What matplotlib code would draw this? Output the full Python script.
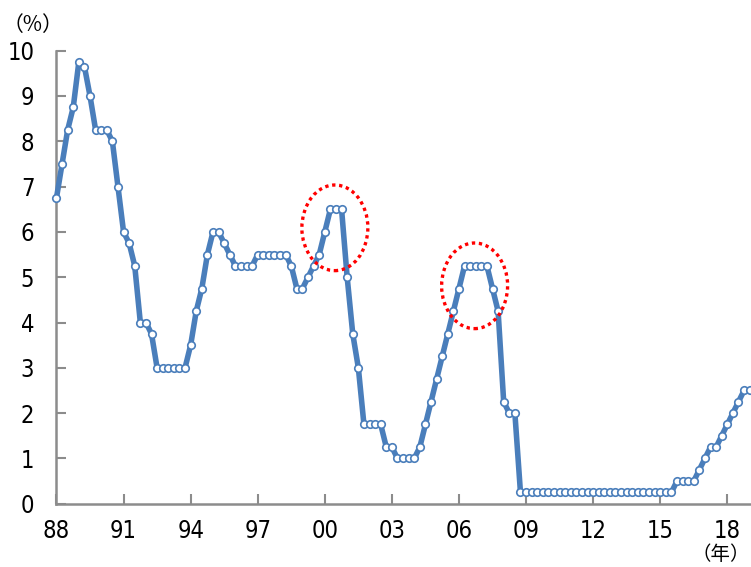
import matplotlib
matplotlib.use('Agg')
import matplotlib.pyplot as plt
from matplotlib.patches import Ellipse
import numpy as np

# quarterly policy rate, 1988Q1 - 2019Q1 (%)
rates = [6.75, 7.5, 8.25, 8.75, 9.75, 9.65, 9.0, 8.25, 8.25, 8.25, 8.0, 7.0,
         6.0, 5.75, 5.25, 4.0, 4.0, 3.75, 3.0, 3.0, 3.0, 3.0, 3.0, 3.0,
         3.5, 4.25, 4.75, 5.5, 6.0, 6.0, 5.75, 5.5, 5.25, 5.25, 5.25, 5.25,
         5.5, 5.5, 5.5, 5.5, 5.5, 5.5, 5.25, 4.75, 4.75, 5.0, 5.25, 5.5,
         6.0, 6.5, 6.5, 6.5, 5.0, 3.75, 3.0, 1.75, 1.75, 1.75, 1.75, 1.25,
         1.25, 1.0, 1.0, 1.0, 1.0, 1.25, 1.75, 2.25, 2.75, 3.25, 3.75, 4.25,
         4.75, 5.25, 5.25, 5.25, 5.25, 5.25, 4.75, 4.25, 2.25, 2.0, 2.0, 0.25,
         0.25, 0.25, 0.25, 0.25, 0.25, 0.25, 0.25, 0.25, 0.25, 0.25, 0.25, 0.25,
         0.25, 0.25, 0.25, 0.25, 0.25, 0.25, 0.25, 0.25, 0.25, 0.25, 0.25, 0.25,
         0.25, 0.25, 0.25, 0.5, 0.5, 0.5, 0.5, 0.75, 1.0, 1.25, 1.25, 1.5,
         1.75, 2.0, 2.25, 2.5, 2.5]
year_labels = ['88', '91', '94', '97', '00', '03', '06', '09', '12', '15', '18']
y_ticks = [0, 1, 2, 3, 4, 5, 6, 7, 8, 9, 10]

# highlighted peaks: (center quarter index, center value)
highlights = [(49.8, 6.09), (74.8, 4.81)]

x = np.arange(len(rates))
blue = '#4a7ebb'
grey = '#8c8c8c'
jp_font = ['Noto Sans CJK JP', 'DejaVu Sans']

fig = plt.figure(figsize=(7.51, 5.67), dpi=100)
ax = fig.add_axes([0.0752, 0.1116, 0.9248, 0.799])

ax.plot(x, rates, color=blue, linewidth=4, marker='o', markersize=5.4,
        markerfacecolor='white', markeredgecolor=blue, markeredgewidth=1.2,
        clip_on=False, zorder=3)

for cx, cy in highlights:
    ax.add_patch(Ellipse((cx, cy), 11.8, 1.89, fill=False, edgecolor='red',
                         linewidth=2.4, linestyle=(0, (1, 1.1)), zorder=4))

ax.set_xlim(0, (751 - 56.5) / 5.59)
ax.set_ylim(0, 10)
ax.set_xticks(np.arange(len(year_labels)) * 12)
ax.set_xticklabels(year_labels)
ax.set_yticks(y_ticks)

for s in ['top', 'right']:
    ax.spines[s].set_visible(False)
for s in ['left', 'bottom']:
    ax.spines[s].set_color(grey)
    ax.spines[s].set_linewidth(1.8)

ax.tick_params(axis='both', direction='in', color=grey, width=1.5, length=7,
               labelsize=17)
ax.tick_params(axis='y', pad=16)
ax.tick_params(axis='x', pad=11)
for lab in ax.get_xticklabels() + ax.get_yticklabels():
    lab.set_family('DejaVu Sans')
    lab.set_stretch('condensed')

fig.text(33 / 751, 1 - 25 / 567, '（%）', family=jp_font, fontsize=15,
         ha='center', va='center')
fig.text(750 / 751, 1 - 555 / 567, '（年）', family=jp_font, fontsize=14,
         ha='right', va='center')

plt.savefig('out.png', dpi=100)
